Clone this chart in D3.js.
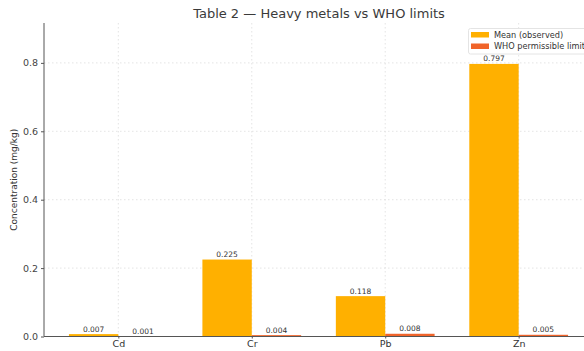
<!DOCTYPE html>
<html><head><meta charset="utf-8">
<script src="https://cdn.jsdelivr.net/npm/d3@7"></script>
<style>body{margin:0;background:#fff}svg{display:block;font-family:"DejaVu Sans",sans-serif}</style>
</head><body>
<svg id="c" width="584" height="351"></svg>
<script>
const categories = ["Cd","Cr","Pb","Zn"];
const meanObserved = [0.007,0.225,0.118,0.797];
const whoLimit = [0.001,0.004,0.008,0.005];
const yTicks = [0.0,0.2,0.4,0.6,0.8];
const seriesNames = ["Mean (observed)","WHO permissible limit"];
const colors = ["#FFB000","#F0642A"];

(function(){
const svg = d3.select("#c");
const mLeft = 44, mBottom = 336.5, mTop = 23;
const barW = 0.37;
const x = d3.scaleLinear().domain([-0.557, 3.557]).range([mLeft, 593]);
const y = d3.scaleLinear().domain([0, 0.9166]).range([mBottom, mTop]);

// grid
const g = svg.append("g");
g.selectAll("line.hg").data(yTicks.slice(1)).join("line")
  .attr("x1", mLeft).attr("x2", 584).attr("y1", d=>y(d)).attr("y2", d=>y(d))
  .attr("stroke","#d8d8d8").attr("stroke-width",0.7).attr("stroke-dasharray","1.5,2.5");
g.selectAll("line.vg").data(categories).join("line")
  .attr("x1",(d,i)=>x(i)).attr("x2",(d,i)=>x(i)).attr("y1",mTop).attr("y2",mBottom)
  .attr("stroke","#d8d8d8").attr("stroke-width",0.7).attr("stroke-dasharray","1.5,2.5");

// bars
const series = [meanObserved, whoLimit];
series.forEach((vals, s) => {
  const off = s === 0 ? -barW : 0;
  svg.append("g").selectAll("rect").data(vals).join("rect")
    .attr("x",(d,i)=>x(i+off)).attr("width", x(barW)-x(0))
    .attr("y", d=>y(d)).attr("height", d=>mBottom-y(d))
    .attr("fill", colors[s]);
  svg.append("g").selectAll("text").data(vals).join("text")
    .attr("x",(d,i)=>x(i+off+barW/2)).attr("y", d=>y(d)-2.5)
    .attr("text-anchor","middle").attr("font-size",7.5).attr("fill","#333")
    .text(d=>d.toFixed(3));
});

// axes
const yAxis = d3.axisLeft(y).tickValues(yTicks).tickFormat(d3.format(".1f")).tickSize(3).tickSizeOuter(0);
const ya = svg.append("g").attr("transform",`translate(${mLeft},0)`).call(yAxis);
ya.select(".domain").attr("stroke","#555").attr("d",`M0,${mTop}V${mBottom}`);
ya.selectAll(".tick line").attr("stroke","#555");
ya.selectAll(".tick text").attr("font-size",9.5).attr("fill","#444").attr("font-family","DejaVu Sans");

const xAxis = d3.axisBottom(x).tickValues(categories.map((d,i)=>i)).tickFormat(i=>categories[i]).tickSize(2).tickSizeOuter(0);
const xa = svg.append("g").attr("transform",`translate(0,${mBottom})`).call(xAxis);
xa.select(".domain").attr("stroke","#555").attr("d",`M${mLeft},0H584`);
xa.selectAll(".tick line").attr("stroke","#555");
xa.selectAll(".tick text").attr("font-size",9.5).attr("fill","#333").attr("font-family","DejaVu Sans").attr("dy","0.6em");

// labels
svg.append("text").attr("transform",`translate(17,${(mTop+mBottom)/2}) rotate(-90)`)
  .attr("text-anchor","middle").attr("font-size",9).attr("fill","#333").text("Concentration (mg/kg)");
svg.append("text").attr("x",319).attr("y",18).attr("text-anchor","middle")
  .attr("font-size",13).attr("fill","#3a3a3a").text("Table 2 — Heavy metals vs WHO limits");

// legend
const lg = svg.append("g");
lg.append("rect").attr("x",468.5).attr("y",28.5).attr("width",130).attr("height",25.5).attr("rx",2)
  .attr("fill","#fff").attr("fill-opacity",0.85).attr("stroke","#ddd").attr("stroke-width",0.8);
seriesNames.forEach((n,i)=>{
  lg.append("rect").attr("x",471).attr("y",32+i*11.5).attr("width",18).attr("height",5.5).attr("fill",colors[i]);
  lg.append("text").attr("x",494).attr("y",37.5+i*11.5).attr("font-size",8.2).attr("fill","#333").text(n);
});
})();
</script>
</body></html>
